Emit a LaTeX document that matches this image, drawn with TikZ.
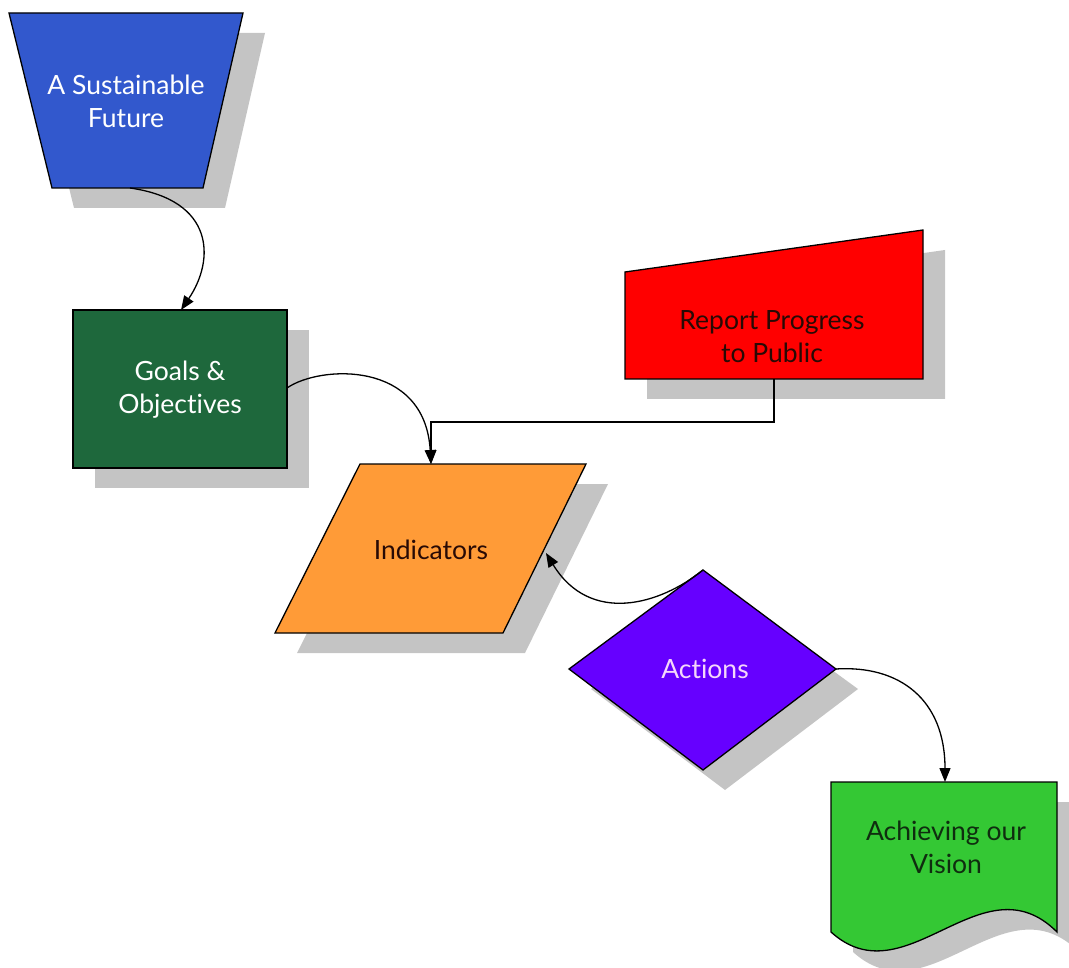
\documentclass[tikz,border=0pt]{standalone}
\usepackage{fontspec}
\setmainfont{Lato}[Ligatures=NoCommon]
\usetikzlibrary{arrows.meta}
\definecolor{sfblue}{RGB}{50,88,205}
\definecolor{goalgreen}{RGB}{30,104,60}
\definecolor{repred}{RGB}{255,0,0}
\definecolor{indorange}{RGB}{255,155,55}
\definecolor{actpurple}{RGB}{102,0,255}
\definecolor{visgreen}{RGB}{52,200,52}
\definecolor{shadowgrey}{RGB}{196,196,196}
\definecolor{darktext}{RGB}{40,10,5}
\tikzset{
  shapebox/.style={draw=black, line width=1.3pt},
  lbl/.style={align=center, font=\fontsize{26.5}{33}\selectfont},
  conn/.style={draw=black, line width=1.3pt, -{Triangle[length=14pt,width=11pt]}},
}
\begin{document}
\begin{tikzpicture}[x=1pt,y=-1pt]
\useasboundingbox (0,0) rectangle (1069,968);
% ---------- shadows ----------
\begin{scope}[shift={(22,20)}]
  \fill[shadowgrey] (9,13) -- (243,13) -- (203,188) -- (52,188) -- cycle;
  \fill[shadowgrey] (73,310) rectangle (287,468);
  \fill[shadowgrey] (625,272) -- (923,230) -- (923,379) -- (625,379) -- cycle;
  \fill[shadowgrey] (360,464) -- (586,464) -- (503,633) -- (275,633) -- cycle;
  \fill[shadowgrey] (703,572) -- (836,669) -- (703,770) -- (569,669) -- cycle;
  \fill[shadowgrey] (831,782) -- (1057,782) -- (1057,932)
     .. controls (982,857) and (906,1000) .. (831,932) -- cycle;
\end{scope}
% ---------- shapes ----------
\filldraw[shapebox, fill=sfblue] (9,13) -- (243,13) -- (203,188) -- (52,188) -- cycle;
\filldraw[shapebox, fill=goalgreen] (73,310) rectangle (287,468);
\filldraw[shapebox, fill=repred] (625,272) -- (923,230) -- (923,379) -- (625,379) -- cycle;
\filldraw[shapebox, fill=indorange] (360,464) -- (586,464) -- (503,633) -- (275,633) -- cycle;
\filldraw[shapebox, fill=actpurple] (703,570) -- (836,669) -- (703,770) -- (569,669) -- cycle;
\filldraw[shapebox, fill=visgreen] (831,782) -- (1057,782) -- (1057,932)
   .. controls (982,857) and (906,1000) .. (831,932) -- cycle;
% ---------- labels ----------
\node[lbl, text=white] (future) at (126,101) {A Sustainable\\Future};
\node[lbl, text=white] (goals) at (180,390) {Goals \&\\Objectives};
\node[lbl, text=darktext] (report) at (772,337) {Report Progress\\to Public};
\node[lbl, text=darktext] (indic) at (431,550) {Indicators};
\node[lbl, text={rgb,255:red,245;green,215;blue,250}] (actions) at (705,669) {Actions};
\node[lbl, text={rgb,255:red,15;green,45;blue,15}] (vision) at (946,847) {Achieving our\\Vision};
% ---------- anchor coordinates ----------
\coordinate (futureS) at (130,188);
\coordinate (goalsN) at (181,310);
\coordinate (goalsE) at (287,388);
\coordinate (indicN) at (431,464);
\coordinate (indicE) at (546,553);
\coordinate (reportS) at (774,379);
\coordinate (bend) at (774,422);
\coordinate (actN) at (703,570);
\coordinate (actE) at (836,669);
\coordinate (visN) at (945,782);
% ---------- connectors ----------
\draw[conn] (futureS) .. controls (215,200) and (215,260) .. (goalsN);
\draw[conn] (goalsE) .. controls (320,365) and (425,360) .. (indicN);
\draw[conn, line width=1.1pt] (reportS) -- (bend) -| (indicN);
\draw[conn] (actN) .. controls (660,605) and (590,625) .. (indicE);
\draw[conn] (actE) .. controls (900,665) and (945,700) .. (visN);
\end{tikzpicture}
\end{document}
